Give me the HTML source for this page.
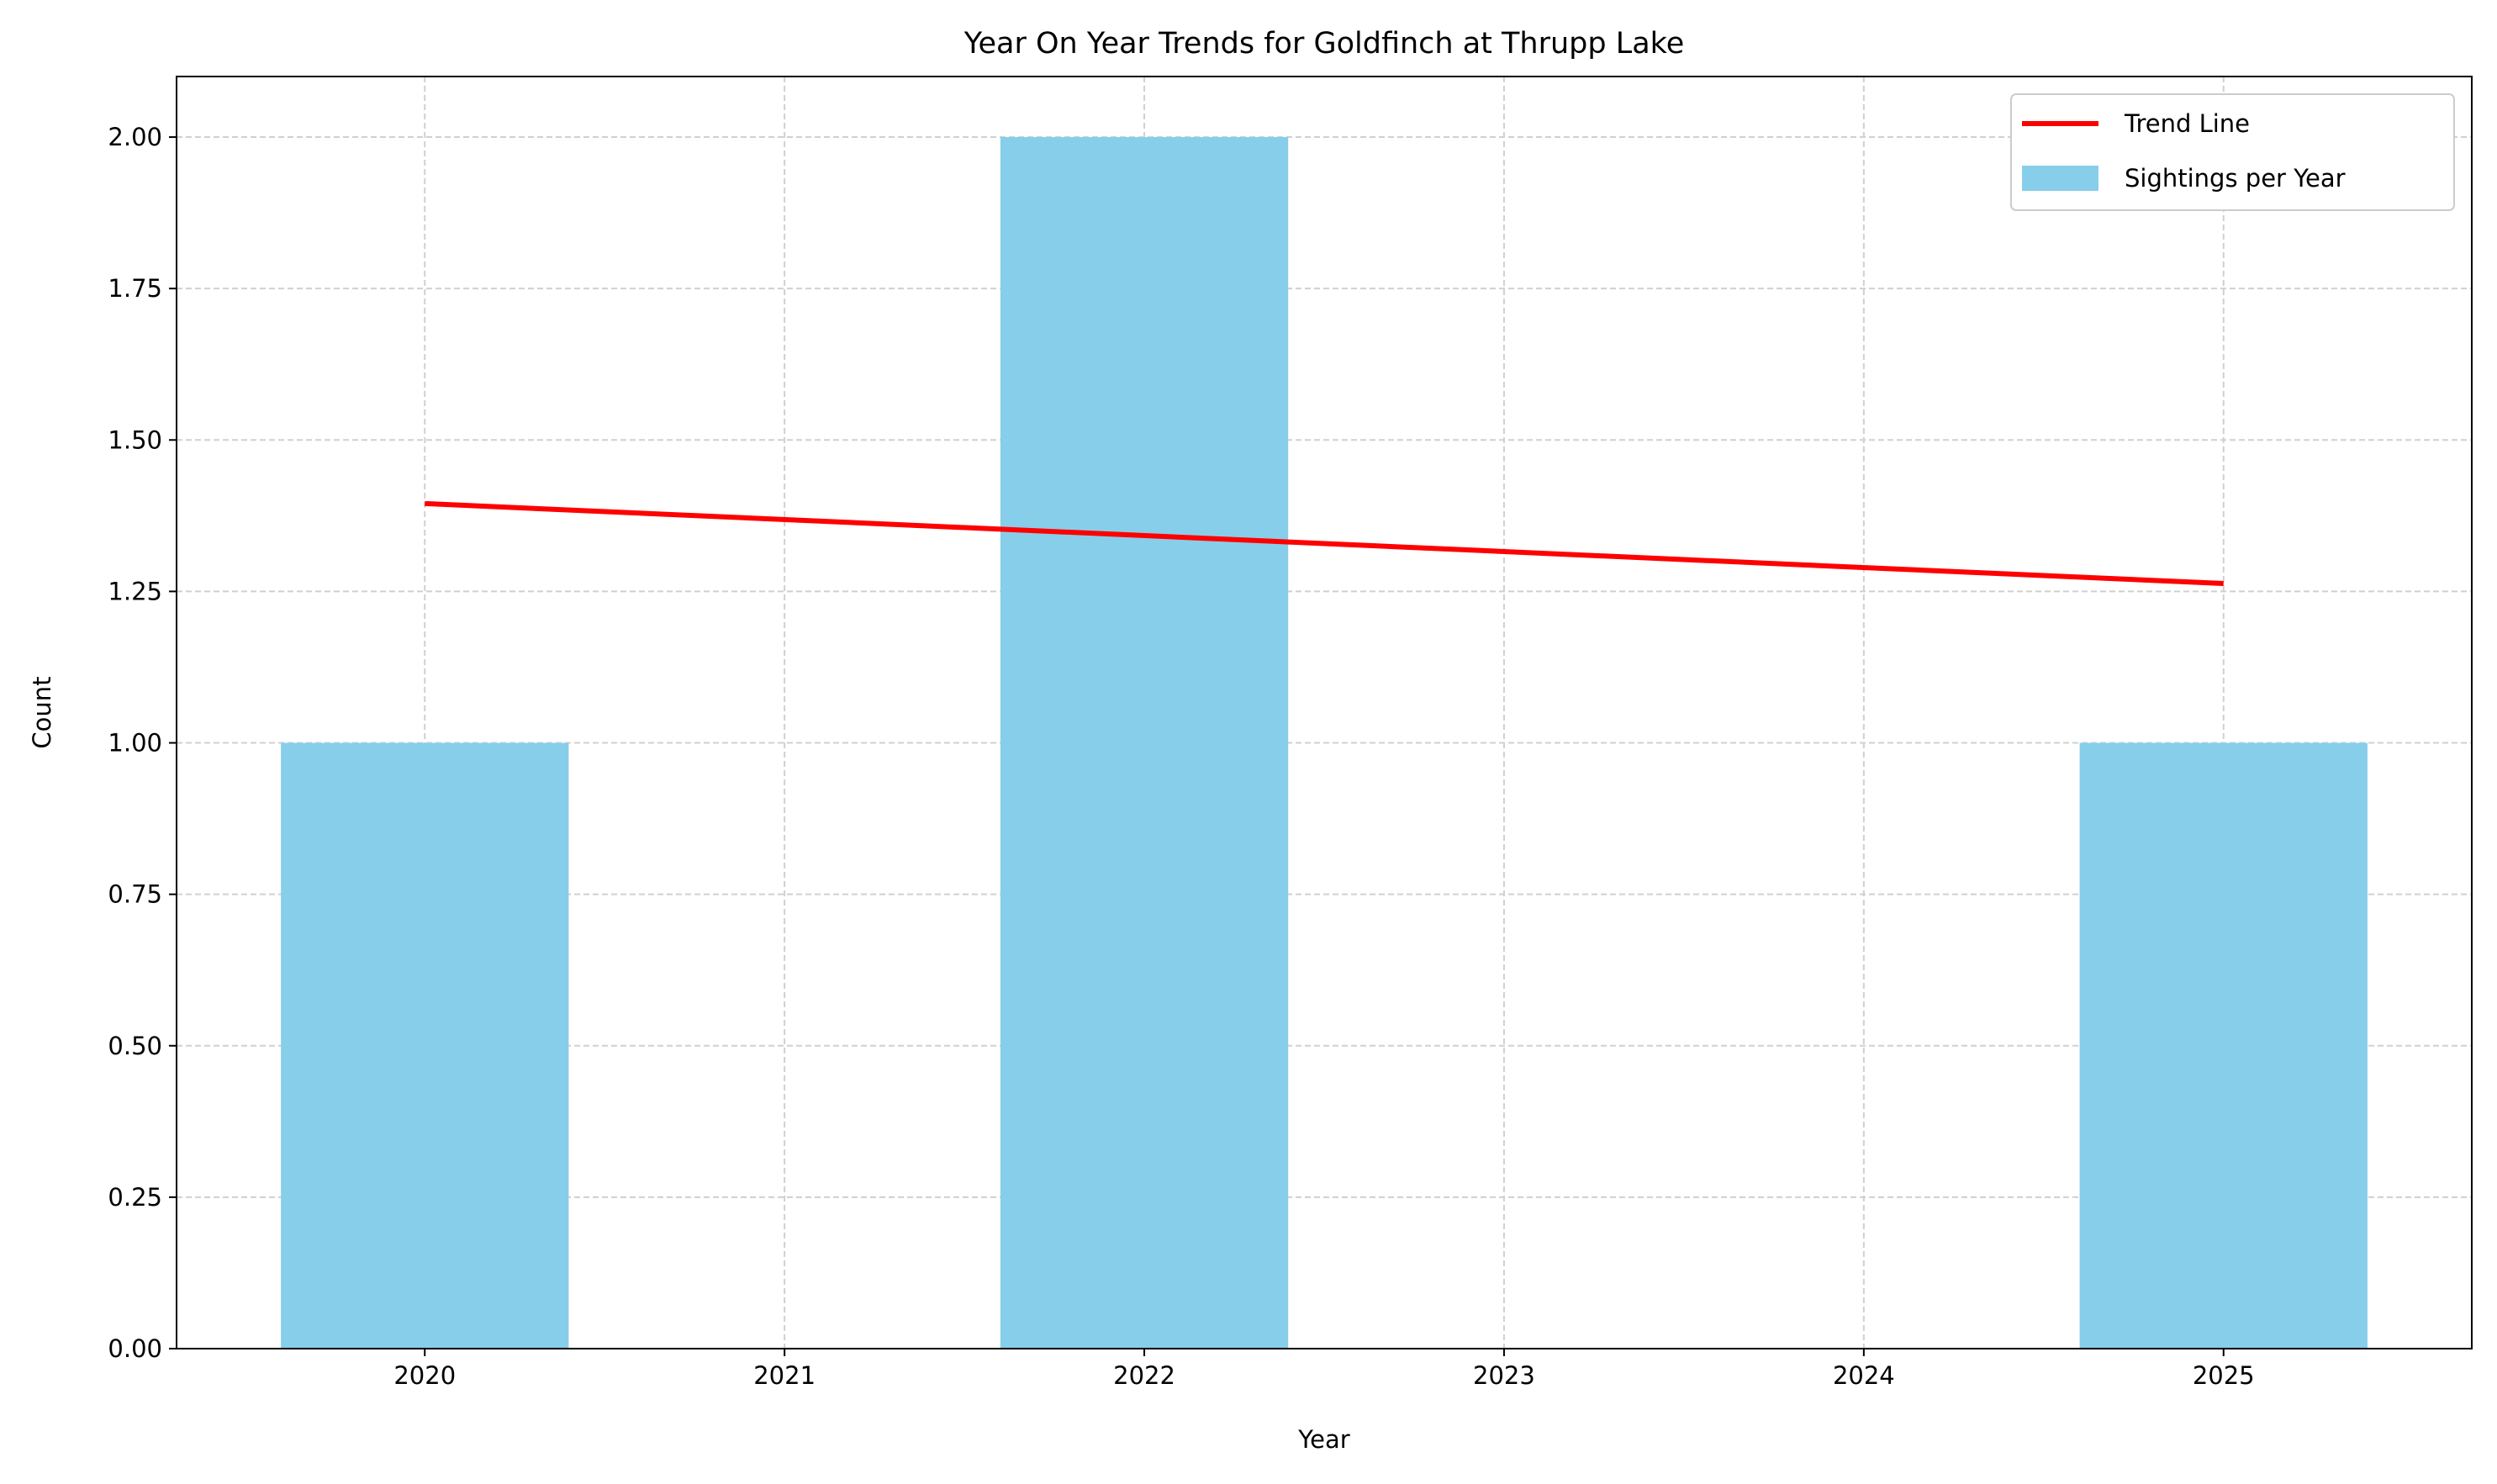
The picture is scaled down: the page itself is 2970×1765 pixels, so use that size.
<!DOCTYPE html>
<html><head><meta charset="utf-8"><style>
body{margin:0;background:#fff;}
svg{display:block;font-family:"DejaVu Sans","Liberation Sans",sans-serif;}
</style></head><body>
<svg id="chart" width="2970" height="1765" viewBox="0 0 2970 1765" xmlns="http://www.w3.org/2000/svg">
<rect width="2970" height="1765" fill="#fff"/>
<g id="grid"></g>
<g id="bars"></g>
<g id="trend"></g>
<g id="axes"></g>
</svg>
<script>
const years = [2020, 2022, 2025];
const counts = [1, 2, 1];
const trendYears = [2020, 2025];
const trendValues = [1.395, 1.263];
const xTicks = [2020, 2021, 2022, 2023, 2024, 2025];
const yTicks = [0, 0.25, 0.5, 0.75, 1.0, 1.25, 1.5, 1.75, 2.0];
const yTickLabels = ["0.00","0.25","0.50","0.75","1.00","1.25","1.50","1.75","2.00"];

const L=210,R=2940,T=91,B=1604;
const xMin=2019.31,xMax=2025.69,yMin=0,yMax=2.1;
const xs=v=>L+(v-xMin)/(xMax-xMin)*(R-L);
const ys=v=>B-(v-yMin)/(yMax-yMin)*(B-T);
const NS="http://www.w3.org/2000/svg";
function mk(tag,attrs,parent,text){const e=document.createElementNS(NS,tag);for(const k in attrs)e.setAttribute(k,attrs[k]);if(text!==undefined)e.textContent=text;parent.appendChild(e);return e;}
const grid=document.getElementById('grid'),bars=document.getElementById('bars'),trend=document.getElementById('trend'),axes=document.getElementById('axes');

xTicks.forEach(t=>{const l=mk('line',{x1:xs(t),x2:xs(t),y1:T,y2:B,stroke:'#d0d0d0','stroke-width':2,'stroke-dasharray':'7,4'},grid);

});
yTicks.forEach(t=>{const l=mk('line',{x1:L,x2:R,y1:ys(t),y2:ys(t),stroke:'#d0d0d0','stroke-width':2,'stroke-dasharray':'7,4'},grid);

});

years.forEach((y,i)=>{const r=mk('rect',{x:xs(y-0.4),y:ys(counts[i]),width:xs(y+0.4)-xs(y-0.4),height:ys(0)-ys(counts[i]),fill:'#87ceeb'},bars);

});

const tl=mk('polyline',{points:trendYears.map((y,i)=>xs(y)+','+ys(trendValues[i])).join(' '),fill:'none',stroke:'#ff0000','stroke-width':6},trend);



const frame=mk('rect',{x:L,y:T,width:R-L,height:B-T,fill:'none',stroke:'#000','stroke-width':2},axes);



xTicks.forEach(t=>{mk('line',{x1:xs(t),x2:xs(t),y1:B,y2:B+9,stroke:'#000','stroke-width':2},axes);
const tx=mk('text',{x:xs(t),y:B+42,'text-anchor':'middle','font-size':'29'},axes,String(t));

});
yTicks.forEach((t,i)=>{mk('line',{x1:L-9,x2:L,y1:ys(t),y2:ys(t),stroke:'#000','stroke-width':2},axes);
const tx=mk('text',{x:L-17,y:ys(t)+10,'text-anchor':'end','font-size':'29'},axes,yTickLabels[i]);

});

const title=mk('text',{x:(L+R)/2,y:63,'text-anchor':'middle','font-size':'35'},axes,'Year On Year Trends for Goldfinch at Thrupp Lake');


const xl=mk('text',{x:(L+R)/2,y:1722,'text-anchor':'middle','font-size':'29'},axes,'Year');


const yl=mk('text',{x:60,y:(T+B)/2,'text-anchor':'middle','font-size':'29',transform:'rotate(-90 60 '+((T+B)/2)+')'},axes,'Count');



const lg=mk('g',{},axes);


mk('rect',{x:2392,y:112,width:527,height:138,rx:6,fill:'#fff',stroke:'#ccc','stroke-width':2},lg);
mk('line',{x1:2405,x2:2496,y1:147,y2:147,stroke:'#ff0000','stroke-width':6},lg);
const e1=mk('text',{x:2527,y:157,'font-size':'29'},lg,'Trend Line');


mk('rect',{x:2405,y:197,width:91,height:30,fill:'#87ceeb'},lg);
const e2=mk('text',{x:2527,y:222,'font-size':'29'},lg,'Sightings per Year');


</script>
</body></html>
